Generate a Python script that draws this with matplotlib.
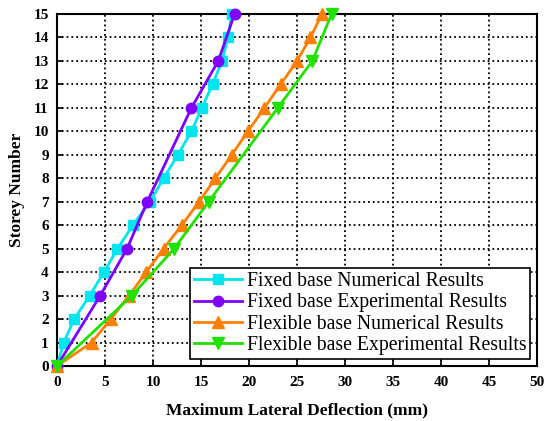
import matplotlib
matplotlib.use("Agg")
import matplotlib.pyplot as plt

# stories
storeys_all = list(range(16))
storeys_exp = [0, 3, 5, 7, 11, 13, 15]

# deflections (mm)
fixed_num = [0, 0.7, 1.8, 3.4, 4.9, 6.3, 7.9, 9.7, 11.1, 12.6, 14.0, 15.1, 16.2, 17.2, 17.8, 18.2]
fixed_exp = [0, 4.5, 7.3, 9.4, 14.0, 16.8, 18.5]
flex_num = [0, 3.6, 5.6, 7.5, 9.3, 11.1, 13.0, 14.8, 16.5, 18.2, 19.9, 21.6, 23.3, 25.0, 26.4, 27.6]
flex_exp = [0, 7.8, 12.2, 15.8, 23.0, 26.6, 28.6]

plt.rcParams['font.family'] = ['Liberation Serif', 'DejaVu Serif']

fig = plt.figure(figsize=(5.45, 4.21), dpi=100)
ax = fig.add_axes([57/545, 1 - 366/421, 480/545, 352/421])

ax.plot(fixed_num, storeys_all, color='#00E5EE', lw=2, marker='s', ms=6.5,
        label='Fixed base Numerical Results', zorder=3, clip_on=False)
ax.plot(fixed_exp, storeys_exp, color='#7F00FF', lw=2, marker='o', ms=7.5,
        label='Fixed base Experimental Results', zorder=3, clip_on=False)
ax.plot(flex_num, storeys_all, color='#FF8000', lw=2, marker='^', ms=8,
        label='Flexible base Numerical Results', zorder=3, clip_on=False)
ax.plot(flex_exp, storeys_exp, color='#22E000', lw=2, marker='v', ms=8,
        label='Flexible base Experimental Results', zorder=3, clip_on=False)

ax.set_xlim(0, 50)
ax.set_ylim(0, 15)
ax.set_xticks(range(0, 51, 5))
ax.set_yticks(range(0, 16))
ax.grid(True, color='black', linestyle=':', linewidth=1.3)
ax.tick_params(direction='in', length=4, width=1.2, labelsize=11)
ax.tick_params(axis='x', pad=7)
ax.tick_params(axis='y', pad=6)
for lab in ax.get_xticklabels() + ax.get_yticklabels():
    lab.set_fontweight('bold')
for s in ax.spines.values():
    s.set_linewidth(1.5)

ax.set_xlabel('Maximum Lateral Deflection (mm)', fontsize=12.5, fontweight='bold', labelpad=10)
ax.set_ylabel('Storey Number', fontsize=12.5, fontweight='bold', labelpad=6)

leg = ax.legend(loc='lower right', fontsize=14.2, frameon=True, fancybox=False,
                edgecolor='black', framealpha=1, borderpad=0.2, labelspacing=0.12,
                handlelength=2.4, handletextpad=0.25, borderaxespad=0.35)
leg.get_frame().set_linewidth(1.2)
leg.set_zorder(5)

fig.savefig('out.png', dpi=100)
